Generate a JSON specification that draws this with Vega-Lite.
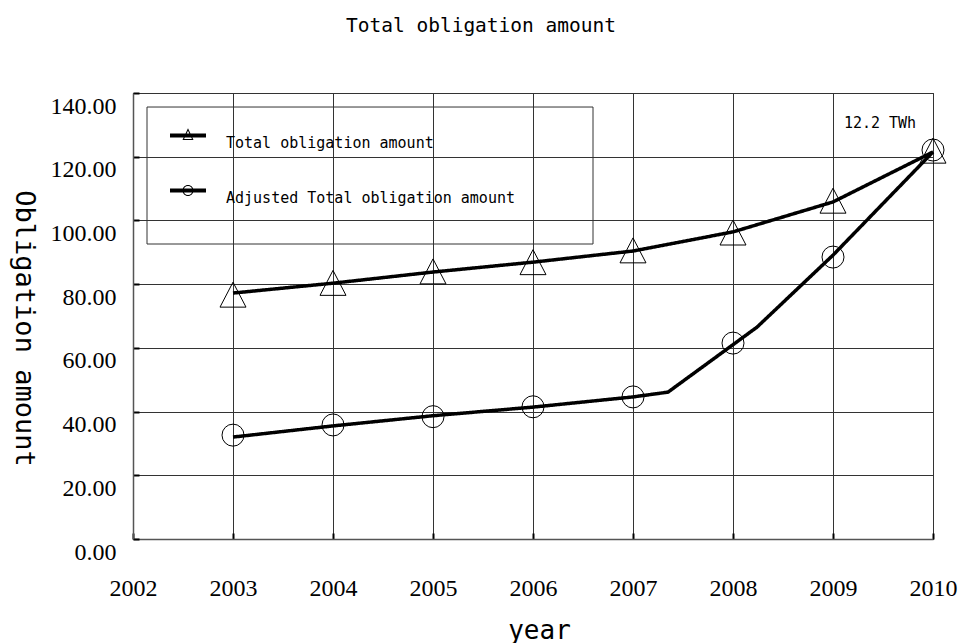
{
  "$schema": "https://vega.github.io/schema/vega-lite/v6.json",
  "width": 800,
  "height": 446,
  "autosize": "none",
  "padding": {"left": 133, "top": 93, "right": 26, "bottom": 104},
  "background": "white",
  "title": {
    "text": "Total obligation amount",
    "font": "DejaVu Sans Mono",
    "fontSize": 19.5,
    "fontWeight": "normal",
    "color": "black",
    "anchor": "middle",
    "dx": -52,
    "baseline": "middle",
    "offset": 47
  },
  "config": {
    "view": {"stroke": "#222", "strokeWidth": 1},
    "axis": {
      "grid": true,
      "gridColor": "#333",
      "gridWidth": 1,
      "gridOpacity": 1,
      "domainColor": "#555",
      "domainWidth": 1.5,
      "tickColor": "black",
      "tickWidth": 2,
      "tickSize": -6,
      "labelFont": "Liberation Serif",
      "labelFontSize": 24,
      "labelColor": "black",
      "labelFlush": false,
      "labelOverlap": false,
      "labelBound": false,
      "titleFont": "DejaVu Sans Mono",
      "titleFontWeight": "normal",
      "titleColor": "black"
    }
  },
  "datasets": {
    "lines": [
      {"year": 2003, "value": 77.2, "series": "Total obligation amount"},
      {"year": 2004, "value": 80.3, "series": "Total obligation amount"},
      {"year": 2005, "value": 83.8, "series": "Total obligation amount"},
      {"year": 2006, "value": 86.9, "series": "Total obligation amount"},
      {"year": 2007, "value": 90.4, "series": "Total obligation amount"},
      {"year": 2008, "value": 96.4, "series": "Total obligation amount"},
      {"year": 2009, "value": 105.8, "series": "Total obligation amount"},
      {"year": 2010, "value": 121.5, "series": "Total obligation amount"},
      {"year": 2003, "value": 32.0, "series": "Adjusted Total obligation amount"},
      {"year": 2004, "value": 35.5, "series": "Adjusted Total obligation amount"},
      {"year": 2005, "value": 38.7, "series": "Adjusted Total obligation amount"},
      {"year": 2006, "value": 41.4, "series": "Adjusted Total obligation amount"},
      {"year": 2007, "value": 44.6, "series": "Adjusted Total obligation amount"},
      {"year": 2007.35, "value": 46.1, "series": "Adjusted Total obligation amount"},
      {"year": 2008.24, "value": 66.5, "series": "Adjusted Total obligation amount"},
      {"year": 2009, "value": 89.1, "series": "Adjusted Total obligation amount"},
      {"year": 2010, "value": 121.5, "series": "Adjusted Total obligation amount"}
    ],
    "markers": [
      {"year": 2003, "value": 76.7, "series": "Total obligation amount"},
      {"year": 2004, "value": 80.4, "series": "Total obligation amount"},
      {"year": 2005, "value": 84.0, "series": "Total obligation amount"},
      {"year": 2006, "value": 86.9, "series": "Total obligation amount"},
      {"year": 2007, "value": 90.6, "series": "Total obligation amount"},
      {"year": 2008, "value": 96.2, "series": "Total obligation amount"},
      {"year": 2009, "value": 106.2, "series": "Total obligation amount"},
      {"year": 2010, "value": 121.9, "series": "Total obligation amount"},
      {"year": 2003, "value": 32.6, "series": "Adjusted Total obligation amount"},
      {"year": 2004, "value": 35.8, "series": "Adjusted Total obligation amount"},
      {"year": 2005, "value": 38.4, "series": "Adjusted Total obligation amount"},
      {"year": 2006, "value": 41.5, "series": "Adjusted Total obligation amount"},
      {"year": 2007, "value": 44.6, "series": "Adjusted Total obligation amount"},
      {"year": 2008, "value": 61.5, "series": "Adjusted Total obligation amount"},
      {"year": 2009, "value": 88.5, "series": "Adjusted Total obligation amount"},
      {"year": 2010, "value": 122.1, "series": "Adjusted Total obligation amount"}
    ]
  },
  "layer": [
    {
      "data": {"values": [{"box": "legend"}]},
      "mark": {"type": "rect", "filled": false, "stroke": "#333", "strokeWidth": 1},
      "encoding": {
        "x": {"datum": 2002.14, "type": "quantitative", "scale": {"domain": [2002, 2010], "nice": false, "zero": false}},
        "x2": {"datum": 2006.6},
        "y": {"datum": 135.6, "type": "quantitative", "scale": {"domain": [0, 140], "nice": false}},
        "y2": {"datum": 92.6}
      }
    },
    {
      "data": {"name": "lines"},
      "mark": {"type": "line", "color": "black", "strokeWidth": 3.5},
      "encoding": {
        "x": {
          "field": "year", "type": "quantitative",
          "scale": {"domain": [2002, 2010], "nice": false, "zero": false},
          "axis": {
            "values": [2002, 2003, 2004, 2005, 2006, 2007, 2008, 2009, 2010],
            "format": "d",
            "labelPadding": 43,
            "labelBaseline": "top",
            "title": "year",
            "titleFontSize": 26,
            "titleX": 406,
            "titleY": 91,
            "titleAlign": "center",
            "titleBaseline": "middle"
          }
        },
        "y": {
          "field": "value", "type": "quantitative",
          "scale": {"domain": [0, 140], "nice": false},
          "axis": {
            "values": [0, 20, 40, 60, 80, 100, 120, 140],
            "format": ".2f",
            "labelBaseline": "middle",
            "labelOffset": 13,
            "labelPadding": 23,
            "title": "Obligation amount",
            "titleFontSize": 27,
            "titleAngle": 90,
            "titleX": -110,
            "titleY": 235,
            "titleAlign": "center",
            "titleBaseline": "middle"
          }
        },
        "strokeDash": {
          "field": "series", "type": "nominal",
          "scale": {
            "domain": ["Total obligation amount", "Adjusted Total obligation amount"],
            "range": [[1, 0], [1, 0]]
          },
          "legend": {
            "title": null,
            "orient": "none",
            "legendX": 37,
            "legendY": 24.5,
            "padding": 0,
            "labelFont": "DejaVu Sans Mono",
            "labelFontSize": 15,
            "labelColor": "black",
            "labelOffset": 20,
            "labelLimit": 600,
            "labelBaseline": "top",
            "rowPadding": 22,
            "symbolSize": 1296,
            "symbolType": {"expr": "datum.value === 'Total obligation amount' ? 'M-1,-0.11L1,-0.11L1,0.11L-1,0.11Z M0,-0.4L0.306,0.25L-0.306,0.25Z M0,-0.269L-0.218,0.194L0.218,0.194Z' : 'M-1,-0.11L1,-0.11L1,0.11L-1,0.11Z M-0.306,0A0.306,0.306 0 1,1 0.306,0A0.306,0.306 0 1,1 -0.306,0Z M-0.25,0A0.25,0.25 0 1,0 0.25,0A0.25,0.25 0 1,0 -0.25,0Z'"},
            "symbolFillColor": "black",
            "symbolOpacity": 1,
            "symbolStrokeColor": "transparent",
            "symbolStrokeWidth": 0
          }
        }
      }
    },
    {
      "data": {"name": "markers"},
      "transform": [{"filter": "datum.series === 'Total obligation amount'"}],
      "mark": {"type": "point", "filled": false, "stroke": "black", "strokeWidth": 1, "size": 676, "opacity": 1, "shape": "M0,-0.96L1,0.96L-1,0.96Z"},
      "encoding": {
        "x": {"field": "year", "type": "quantitative"},
        "y": {"field": "value", "type": "quantitative"}
      }
    },
    {
      "data": {"name": "markers"},
      "transform": [{"filter": "datum.series === 'Adjusted Total obligation amount'"}],
      "mark": {"type": "point", "filled": false, "stroke": "black", "strokeWidth": 1, "size": 484, "opacity": 1, "shape": "circle"},
      "encoding": {
        "x": {"field": "year", "type": "quantitative"},
        "y": {"field": "value", "type": "quantitative"}
      }
    },
    {
      "data": {"values": [{"note": "12.2 TWh"}]},
      "mark": {"type": "text", "font": "DejaVu Sans Mono", "fontSize": 15, "color": "black", "align": "center", "baseline": "middle"},
      "encoding": {
        "x": {"datum": 2009.47, "type": "quantitative"},
        "y": {"datum": 130.6, "type": "quantitative"},
        "text": {"field": "note"}
      }
    }
  ]
}
